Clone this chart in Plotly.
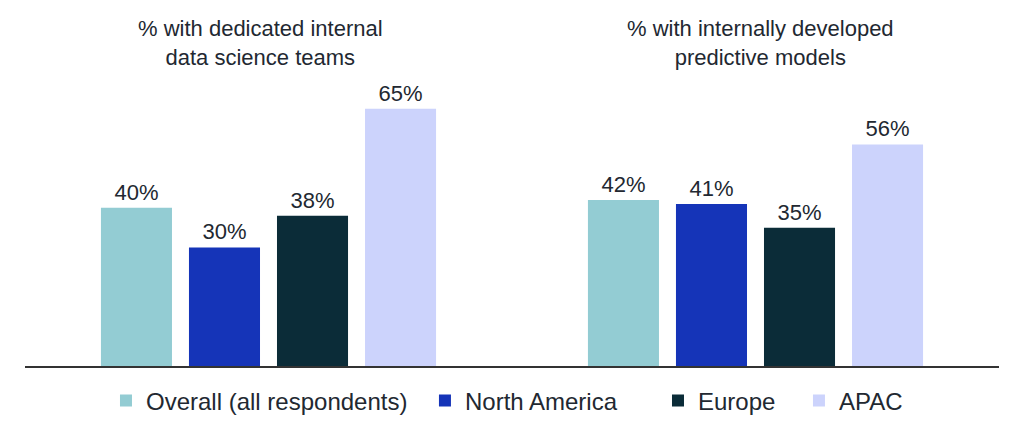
import plotly.graph_objects as go

# chart data
groups = ["dedicated", "predictive"]
group_titles = ["% with dedicated internal<br>data science teams",
                "% with internally developed<br>predictive models"]
regions = ["Overall (all respondents)", "North America", "Europe", "APAC"]
overall = [40, 42]
north_america = [30, 41]
europe = [38, 35]
apac = [65, 56]

colors = ["#93ccd3", "#1534b8", "#0b2c38", "#ccd3fc"]
legend_x = [0.1036, 0.4154, 0.6432, 0.781]  # container coords, one legend per region
TEXT = "#222831"
FONT = "Liberation Sans, Arial, sans-serif"

fig = go.Figure()
series = [overall, north_america, europe, apac]
for i, (name, vals) in enumerate(zip(regions, series)):
    fig.add_trace(go.Bar(
        name=name, x=groups, y=vals,
        marker_color=colors[i],
        # transparent outline only to push the value labels up a little
        marker_line=dict(width=8, color="rgba(0,0,0,0)"),
        text=[f"{v}%" for v in vals],
        textposition="outside",
        textfont=dict(size=22, color=TEXT),
        cliponaxis=False,
        legend="legend" if i == 0 else f"legend{i+1}",
    ))

# group headings
title_x = [0.2413, 0.7556]
for tx, t in zip(title_x, group_titles):
    fig.add_annotation(x=tx, y=1.063, xref="paper", yref="paper", text=t,
                       showarrow=False, xanchor="center", yanchor="middle",
                       font=dict(size=22, color=TEXT))

leg = dict(orientation="h", xref="container", yref="container", y=0.05,
           xanchor="left", yanchor="middle", bgcolor="rgba(0,0,0,0)",
           font=dict(size=24, color=TEXT), traceorder="normal")
layout_legends = {}
for i, lx in enumerate(legend_x):
    key = "legend" if i == 0 else f"legend{i+1}"
    layout_legends[key] = dict(leg, x=lx)

fig.update_layout(
    width=1023, height=422,
    margin=dict(l=25, r=24, t=62, b=49),
    paper_bgcolor="white", plot_bgcolor="white",
    font=dict(family=FONT, color=TEXT),
    barmode="group", bargap=0.277, bargroupgap=0.193,
    showlegend=True,
    xaxis=dict(range=[-0.5, 1.5], showticklabels=False, ticks="",
               showline=True, linecolor="#333333", linewidth=1.5,
               showgrid=False, zeroline=False, fixedrange=True),
    yaxis=dict(range=[0, 76.8], visible=False, fixedrange=True),
    **layout_legends,
)

fig.write_html("out.html", config={"displayModeBar": False},
               post_script="document.body.style.margin='0';")
